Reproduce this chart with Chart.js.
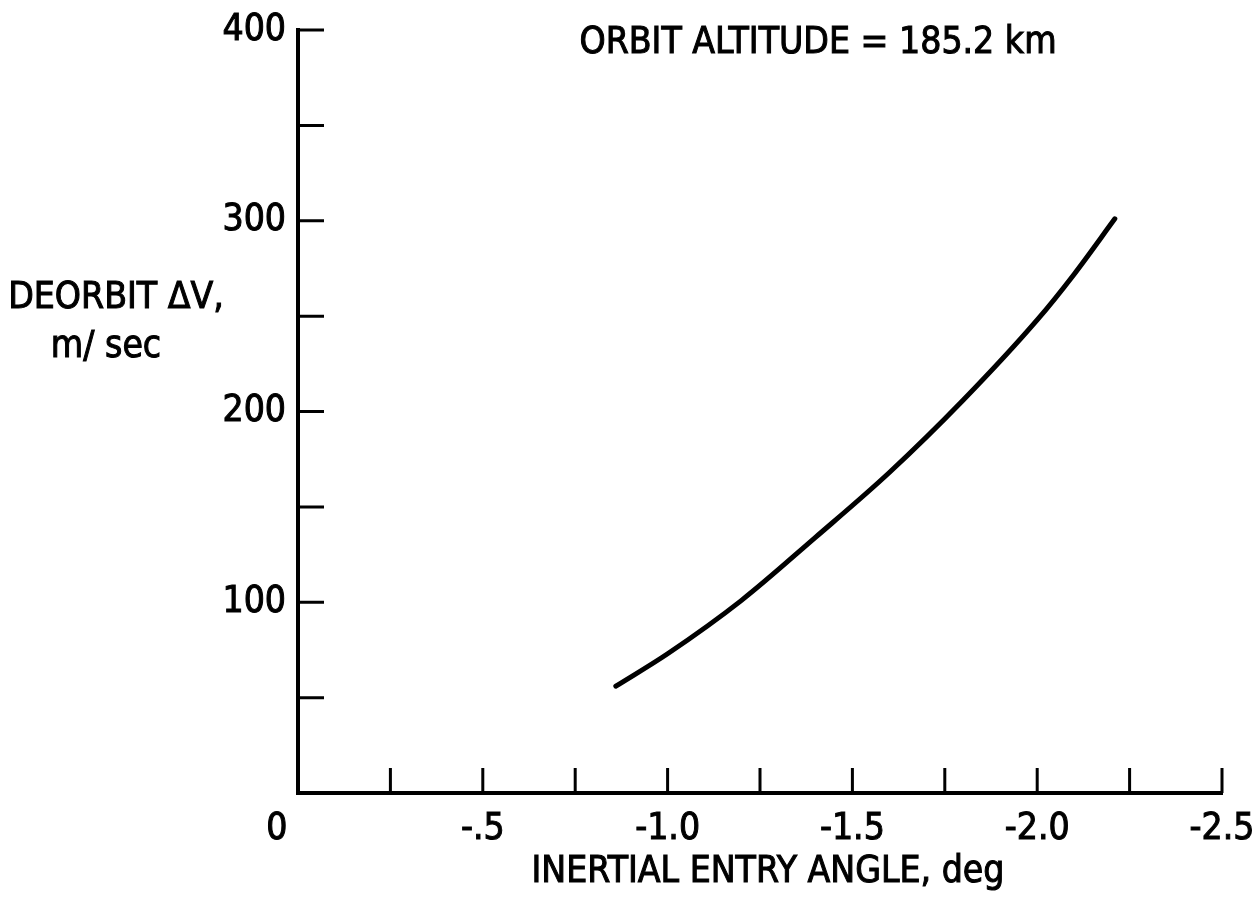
<!DOCTYPE html>
<html>
<head>
<meta charset="utf-8">
<script src="https://cdn.jsdelivr.net/npm/chart.js@4.4.1/dist/chart.umd.min.js"></script>
<style>
  html, body { margin: 0; padding: 0; background: #fff; }
  canvas { display: block; }
</style>
</head>
<body>
<canvas id="deorbit" width="1253" height="902"></canvas>
<script>
// entry angle (deg) vs. deorbit delta-V (m/sec)
const entryAngle = [-0.86, -1.0, -1.2, -1.4, -1.6, -1.8, -2.0, -2.1, -2.21];
const deorbitDV = [56, 73, 101, 134, 168, 206, 248, 272, 301];

const xTickValues = [0, -0.5, -1.0, -1.5, -2.0, -2.5];
const xTickText = ['0', '-.5', '-1.0', '-1.5', '-2.0', '-2.5'];
const yTickValues = [100, 200, 300, 400];

const FONT = "'DejaVu Sans Condensed', 'Liberation Sans Narrow', sans-serif";

// tick marks point into the plot, plus the free-standing labels
var inwardTicks = {
    id: 'inwardTicks',
    afterDraw: function (chart) {
        var c = chart.ctx;
        var area = chart.chartArea;
        var xs = chart.scales.x, ys = chart.scales.y;
        c.save();
        c.strokeStyle = '#000';
        c.lineWidth = 3;
        c.beginPath();
        xs.ticks.forEach(function (t) {
            if (t.value === 0) return;
            var px = xs.getPixelForValue(t.value);
            c.moveTo(px, area.bottom);
            c.lineTo(px, area.bottom - 25);
        });
        ys.ticks.forEach(function (t) {
            if (t.value === 0) return;
            var py = ys.getPixelForValue(t.value);
            c.moveTo(area.left, py);
            c.lineTo(area.left + 26, py);
        });
        c.stroke();

        c.fillStyle = '#000';
        c.lineWidth = 1;
        c.textBaseline = 'middle';
        c.textAlign = 'center';
        c.font = '37px ' + FONT;
        [['ORBIT ALTITUDE = 185.2 km', 818, 43],
         ['DEORBIT \u0394V,', 116, 298],
         ['m/ sec', 106, 347],
         ['INERTIAL ENTRY ANGLE, deg', 768, 872]].forEach(function (t) {
            c.fillText(t[0], t[1], t[2]);
            c.strokeText(t[0], t[1], t[2]);
        });
        c.restore();
    }
};

new Chart(document.getElementById('deorbit'), {
    type: 'scatter',
    data: {
        datasets: [{
            label: 'deorbit dV',
            data: entryAngle.map(function (a, i) { return { x: a, y: deorbitDV[i] }; }),
            showLine: true,
            borderColor: '#000',
            borderWidth: 5,
            borderCapStyle: 'round',
            pointRadius: 0,
            cubicInterpolationMode: 'monotone'
        }]
    },
    options: {
        responsive: false,
        animation: false,
        layout: { padding: { top: 30, right: 31, left: 0, bottom: 0 } },
        plugins: { legend: { display: false }, tooltip: { enabled: false } },
        scales: {
            x: {
                type: 'linear',
                reverse: true,
                min: -2.5,
                max: 0,
                grid: { display: false, drawTicks: false },
                border: { display: true, color: '#000', width: 4 },
                ticks: {
                    stepSize: 0.25,
                    padding: 14,
                    color: '#000',
                    textStrokeColor: '#000',
                    textStrokeWidth: 1,
                    maxRotation: 0,
                    autoSkip: false,
                    font: { family: FONT, size: 37 },
                    callback: function (v) {
                        var i = xTickValues.findIndex(function (t) { return Math.abs(t - v) < 1e-6; });
                        if (i < 0) return '';
                        return v === 0 ? xTickText[i] + '    ' : xTickText[i];
                    }
                },
                afterFit: function (s) {
                    s.height = 109;
                    s.paddingLeft = 0;
                    s.paddingRight = 0;
                }
            },
            y: {
                type: 'linear',
                min: 0,
                max: 400,
                grid: { display: false, drawTicks: false },
                border: { display: true, color: '#000', width: 4 },
                ticks: {
                    stepSize: 50,
                    padding: 12,
                    color: '#000',
                    textStrokeColor: '#000',
                    textStrokeWidth: 1,
                    font: { family: FONT, size: 37 },
                    callback: function (v) {
                        return yTickValues.indexOf(v) >= 0 ? String(v) : '';
                    }
                },
                afterFit: function (s) {
                    s.width = 298;
                    s.paddingTop = 0;
                    s.paddingBottom = 0;
                }
            }
        }
    },
    plugins: [inwardTicks]
});
</script>
</body>
</html>
